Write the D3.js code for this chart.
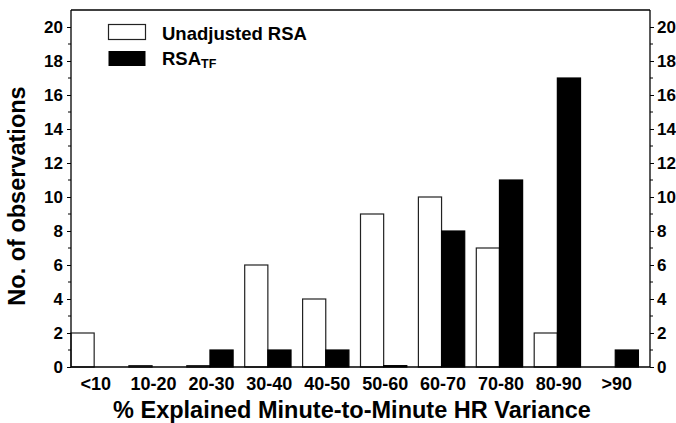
<!DOCTYPE html>
<html>
<head>
<meta charset="utf-8">
<script src="https://cdn.jsdelivr.net/npm/d3@7"></script>
<style>
  body { margin: 0; background: #fff; }
  svg { display: block; }
  text { font-family: "Liberation Sans", Arial, sans-serif; font-weight: bold; fill: #000; }
</style>
</head>
<body>
<svg id="chart" width="676" height="423"></svg>
<script>
// ---- data ----
const categories = ["<10", "10-20", "20-30", "30-40", "40-50", "50-60", "60-70", "70-80", "80-90", ">90"];
const unadjustedRSA = [2, 0.08, 0.08, 6, 4, 9, 10, 7, 2, 0];
const rsaTF = [0, 0, 1, 1, 1, 0.08, 8, 11, 17, 1];
const yTicks = [0, 2, 4, 6, 8, 10, 12, 14, 16, 18, 20];
const yMinorTicks = [1, 3, 5, 7, 9, 11, 13, 15, 17, 19];
const seriesNames = ["Unadjusted RSA", "RSA"];

// ---- layout ----
const svg = d3.select("#chart");
const pLeft = 71, pRight = 650, pTop = 10, pBottom = 367;
const x = d3.scaleLinear().domain([-0.4, categories.length - 0.4]).range([pLeft, pRight]);
const y = d3.scaleLinear().domain([0, 21]).range([pBottom, pTop]);
const halfW = 0.4;

// bars
const g = svg.append("g");
g.selectAll("rect.u").data(unadjustedRSA).join("rect")
  .attr("class", "u")
  .attr("x", (d, i) => x(i - halfW))
  .attr("width", (d, i) => x(i) - x(i - halfW))
  .attr("y", d => y(d))
  .attr("height", d => y(0) - y(d))
  .attr("fill", "#fff")
  .attr("stroke", d => d > 0 ? "#222" : "none")
  .attr("stroke-width", 1.2);
g.selectAll("rect.t").data(rsaTF).join("rect")
  .attr("class", "t")
  .attr("x", (d, i) => x(i))
  .attr("width", (d, i) => x(i + halfW) - x(i))
  .attr("y", d => y(d))
  .attr("height", d => y(0) - y(d))
  .attr("fill", "#000")
  .attr("stroke", d => d > 0 ? "#000" : "none")
  .attr("stroke-width", 1.2);

// frame
const frame = svg.append("g").attr("stroke", "#000").attr("stroke-width", 1.3);
frame.append("line").attr("x1", pLeft).attr("x2", pRight).attr("y1", pTop).attr("y2", pTop);
frame.append("line").attr("x1", pLeft).attr("x2", pRight).attr("y1", pBottom).attr("y2", pBottom);

// y axes
const leftAxis = d3.axisLeft(y).tickValues(yTicks).tickSize(4).tickPadding(4).tickFormat(d3.format("d"));
const rightAxis = d3.axisRight(y).tickValues(yTicks).tickSize(4).tickPadding(3).tickFormat(d3.format("d"));
function styleAxis(sel) {
  sel.select(".domain").attr("stroke", "#000").attr("stroke-width", 1.3);
  sel.selectAll(".tick line").attr("stroke", "#000").attr("stroke-width", 1);
  sel.selectAll(".tick text").style("font-size", "17px").style("font-family", "'Liberation Sans', Arial, sans-serif").style("font-weight", "bold").attr("fill", "#000");
}
const la = svg.append("g").attr("transform", `translate(${pLeft},0)`).call(leftAxis).call(styleAxis);
const ra = svg.append("g").attr("transform", `translate(${pRight},0)`).call(rightAxis).call(styleAxis);
la.select(".domain").attr("d", `M0,${pBottom}V${pTop}`);
ra.select(".domain").attr("d", `M0,${pBottom}V${pTop}`);
// minor ticks
svg.append("g").selectAll("line").data(yMinorTicks).join("line")
  .attr("x1", pLeft - 3).attr("x2", pLeft).attr("y1", d => y(d)).attr("y2", d => y(d))
  .attr("stroke", "#000").attr("stroke-width", 1);
svg.append("g").selectAll("line").data(yMinorTicks).join("line")
  .attr("x1", pRight).attr("x2", pRight + 3).attr("y1", d => y(d)).attr("y2", d => y(d))
  .attr("stroke", "#000").attr("stroke-width", 1);

// x category labels
svg.append("g").selectAll("text").data(categories).join("text")
  .attr("x", (d, i) => x(i) + 1.5)
  .attr("y", 389.5)
  .attr("text-anchor", "middle")
  .style("font-size", "18px")
  .text(d => d);

// axis titles
svg.append("text")
  .attr("x", 352).attr("y", 418)
  .attr("text-anchor", "middle")
  .style("font-size", "23.5px")
  .text("% Explained Minute-to-Minute HR Variance");
svg.append("text")
  .attr("transform", "translate(25,196) rotate(-90)")
  .attr("text-anchor", "middle")
  .style("font-size", "23.5px")
  .text("No. of observations");

// legend
const leg = svg.append("g");
leg.append("rect").attr("x", 108.5).attr("y", 24.5).attr("width", 37).attr("height", 15)
  .attr("fill", "#fff").attr("stroke", "#222").attr("stroke-width", 1.2);
leg.append("rect").attr("x", 108.5).attr("y", 51).attr("width", 37).attr("height", 15)
  .attr("fill", "#000");
leg.append("text").attr("x", 162).attr("y", 39.5).style("font-size", "18.5px").text(seriesNames[0]);
const t2 = leg.append("text").attr("x", 162).attr("y", 65).style("font-size", "18.5px");
t2.append("tspan").text(seriesNames[1]);
t2.append("tspan").attr("dy", 2.5).style("font-size", "12.5px").text("TF");
</script>
</body>
</html>
